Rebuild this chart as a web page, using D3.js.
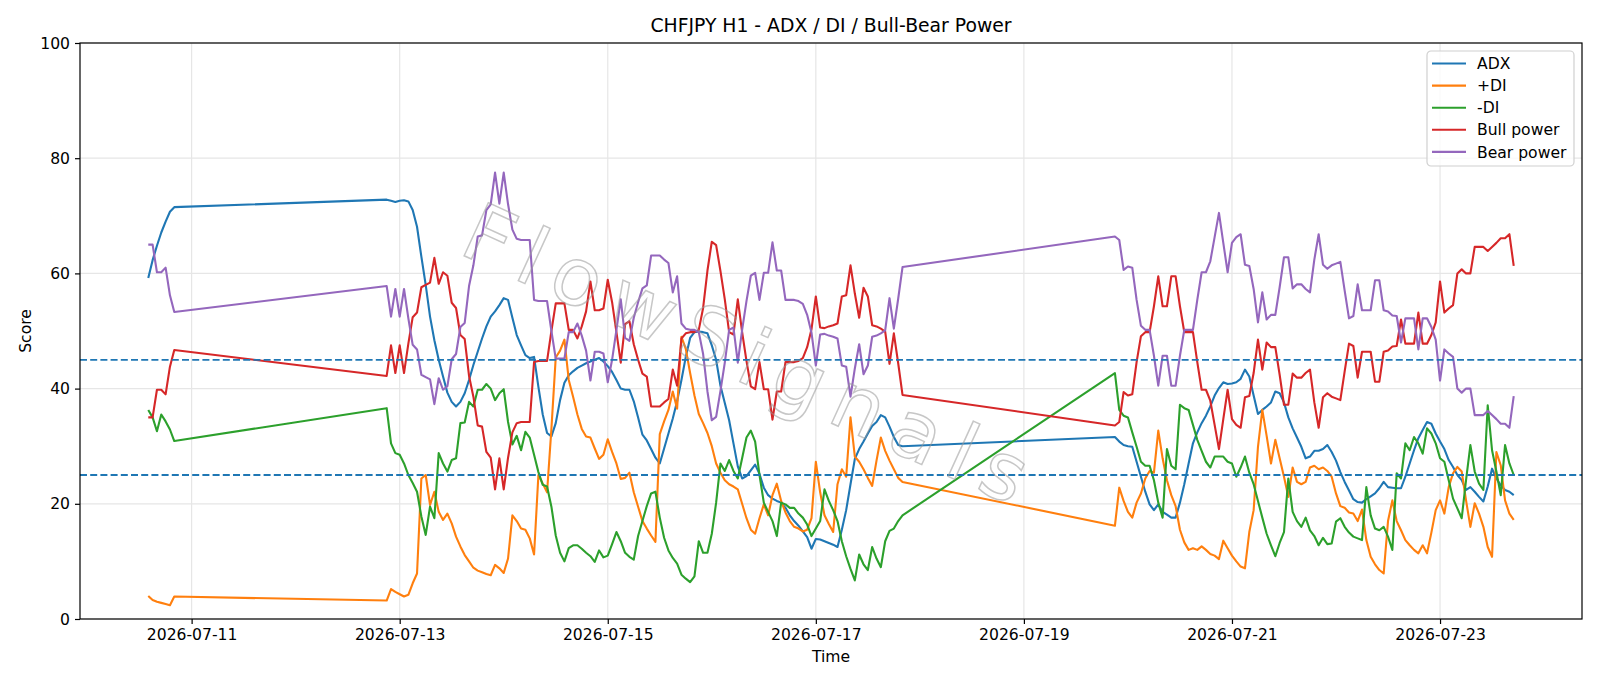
<!DOCTYPE html>
<html>
<head>
<meta charset="utf-8">
<script src="https://cdn.jsdelivr.net/npm/d3@7"></script>
<style>
	body { margin: 0; background: #fff; }
	svg { font-family: "DejaVu Sans", sans-serif; }
</style>
</head>
<body>
<svg id="chart" width="1600" height="686"></svg>
<script>
{
	// hourly sessions: first bar, number of bars (weekends are skipped)
	var sessions = [["2026-07-10T14:00", 7], ["2026-07-12T21:00", 120], ["2026-07-19T21:00", 93]];

	var adx = [
		59.2, 62.3, 64.8, 67.1, 69.0, 70.7, 71.5,
		72.8, 72.6, 72.4, 72.6, 72.7, 72.5, 71.0, 68.1, 62.9, 58.0,
		52.5, 48.4, 45.0, 42.1, 39.3, 37.7, 36.9, 37.7, 39.2, 41.5,
		44.1, 46.4, 48.7, 50.8, 52.5, 53.4, 54.5, 55.7, 55.4, 52.3,
		49.3, 47.5, 45.8, 45.3, 45.5, 40.3, 35.5, 32.3, 31.7, 34.0,
		38.0, 41.0, 42.3, 43.0, 43.6, 44.0, 44.4, 44.7, 45.0, 45.3,
		44.7, 43.9, 42.9, 41.5, 40.0, 39.8, 39.8, 37.8, 35.0, 32.0,
		31.0, 29.5, 28.0, 27.0, 29.6, 32.2, 34.8, 37.8, 41.5, 45.5,
		48.8, 49.8, 49.9, 49.8, 49.6, 47.5, 45.0, 40.5, 37.5, 34.5,
		30.5, 26.5, 24.4, 24.8, 25.8, 26.8, 25.2, 22.8, 21.5, 20.9,
		20.5, 20.2, 19.3, 18.0, 17.0, 16.2, 15.2, 14.2, 12.2, 13.9,
		13.8, 13.5, 13.2, 12.9, 12.5, 15.5, 18.9, 23.4, 27.8, 29.5,
		30.8, 32.2, 33.5, 34.2, 35.4, 35.0, 33.4, 31.6, 30.2, 30.0,
		31.6, 30.8, 30.2, 30.0, 29.9, 27.3, 24.7, 22.1, 19.9, 18.9,
		19.9, 18.6, 18.1, 17.6, 17.6, 20.2, 23.4, 27.0, 30.5, 32.4,
		34.0, 35.3, 36.9, 38.8, 40.1, 41.1, 40.8, 40.9, 41.1, 41.7,
		43.3, 42.1, 38.8, 35.6, 36.3, 36.9, 37.6, 39.5, 39.2, 37.6,
		35.0, 33.1, 31.5, 29.9, 27.9, 28.2, 29.2, 29.2, 29.5, 30.2,
		29.0, 27.5, 25.5, 23.8, 22.3, 20.8, 20.3, 20.2, 20.8, 21.3,
		21.8, 22.7, 23.8, 22.9, 22.8, 22.7, 22.7, 24.7, 27.0, 29.3,
		31.4, 32.8, 34.2, 33.9, 32.2, 30.8, 29.5, 27.6, 26.4, 25.0,
		24.1, 22.4, 22.9, 22.1, 21.2, 20.4, 23.0, 26.1, 24.4, 23.2,
		22.4, 22.1, 21.5
	];

	var plusDi = [
		4.0, 3.3, 3.0, 2.8, 2.6, 2.4, 3.9,
		3.2, 5.2, 4.7, 4.3, 3.9, 4.2, 6.2, 7.9, 24.4, 25.0,
		19.8, 22.1, 18.6, 17.2, 18.3, 16.6, 14.3, 12.6, 11.1, 10.0,
		8.9, 8.4, 8.1, 7.8, 7.6, 9.4, 8.8, 8.0, 10.5, 18.0,
		17.0, 15.7, 15.5, 14.0, 11.2, 25.0, 23.5, 22.0, 33.0, 45.4,
		46.6, 48.5, 41.5, 38.6, 35.5, 33.0, 31.7, 31.5, 29.6, 27.8,
		28.5, 31.2, 29.0, 27.0, 24.3, 24.5, 25.4, 22.0, 19.5, 17.0,
		15.7, 14.5, 13.4, 32.1, 34.3, 36.3, 39.5, 36.5, 49.0, 46.9,
		42.7, 38.8, 35.6, 34.0, 32.3, 30.0, 27.0, 25.4, 24.1, 23.4,
		23.0, 22.5, 20.0, 17.5, 15.5, 14.8, 17.5, 19.9, 18.0, 21.5,
		23.5, 20.5, 18.5, 17.0, 16.0, 15.7, 15.2, 15.5, 17.5, 27.3,
		22.0, 18.0, 16.5, 15.1, 23.4, 26.0, 24.7, 35.0, 28.2, 27.3,
		26.0, 24.5, 23.1, 27.5, 31.5, 29.2, 27.5, 26.0, 24.5, 23.8,
		16.2, 22.8, 20.5, 18.6, 17.6, 20.2, 21.8, 24.4, 25.7, 25.4,
		32.7, 27.9, 24.1, 21.5, 19.6, 15.5, 13.3, 12.0, 12.3, 12.0,
		12.6, 12.0, 11.3, 11.0, 10.4, 13.6, 12.3, 11.0, 10.0, 9.1,
		8.8, 15.1, 18.9, 29.9, 36.3, 31.8, 27.0, 31.1, 27.9, 24.7,
		21.2, 26.3, 23.8, 23.4, 23.8, 26.3, 26.6, 26.0, 26.3, 25.7,
		24.7, 21.8, 19.6, 19.3, 18.5, 18.3, 17.0, 19.0, 13.7, 10.8,
		9.5, 8.5, 7.9, 17.0, 20.6, 17.0, 15.4, 13.7, 12.8, 12.0,
		11.4, 12.8, 11.4, 15.0, 18.9, 20.6, 18.3, 22.9, 25.3, 26.4,
		25.6, 20.6, 16.0, 20.1, 18.3, 16.0, 12.5, 10.8, 29.0, 26.7,
		20.6, 18.3, 17.2
	];

	var minusDi = [
		36.3, 35.0, 32.6, 35.5, 34.3, 32.9, 30.9,
		36.6, 30.5, 28.8, 28.5, 27.0, 25.0, 23.6, 22.1, 17.8, 14.6,
		19.5, 17.5, 28.8, 27.0, 25.6, 27.6, 27.9, 34.0, 34.1, 37.7,
		36.9, 39.8, 39.8, 40.8, 40.0, 38.0, 39.2, 39.9, 34.2, 30.3,
		31.8, 29.3, 32.5, 31.5, 28.5, 25.5, 23.3, 23.0, 19.5, 14.5,
		11.5, 10.0, 12.3, 12.8, 12.8, 12.2, 11.5, 10.9, 9.9, 11.9,
		10.7, 11.0, 13.0, 15.1, 13.5, 11.5, 10.8, 10.3, 14.4, 17.0,
		19.6, 21.8, 22.1, 17.6, 14.1, 11.9, 10.6, 9.6, 7.7, 7.0,
		6.4, 7.4, 13.5, 11.5, 11.5, 14.8, 20.2, 27.0, 25.7, 27.6,
		25.7, 24.4, 27.9, 31.5, 32.7, 30.8, 25.0, 20.2, 18.6, 17.0,
		14.4, 20.2, 19.9, 19.3, 19.3, 18.3, 17.6, 16.4, 14.4, 15.7,
		17.0, 22.5, 20.5, 18.9, 17.0, 13.5, 10.9, 8.7, 6.7, 11.2,
		9.5, 8.5, 12.5, 10.5, 9.0, 13.5, 15.3, 15.7, 17.0, 18.0,
		42.7, 36.3, 35.3, 35.0, 32.4, 29.9, 27.3, 26.6, 26.6, 24.1,
		20.2, 17.6, 29.5, 26.6, 26.0, 37.2, 36.6, 36.3, 33.7, 31.1,
		29.2, 27.3, 26.3, 28.2, 28.2, 28.2, 27.3, 27.0, 24.7, 26.3,
		28.2, 25.4, 23.4, 20.5, 17.6, 14.8, 12.8, 10.9, 13.2, 15.1,
		24.4, 18.6, 17.0, 16.0, 17.6, 15.4, 14.4, 12.8, 14.1, 13.0,
		13.1, 16.9, 17.5, 16.0, 15.0, 14.3, 14.0, 13.7, 22.9, 18.0,
		15.7, 15.4, 16.0, 14.3, 12.0, 25.3, 24.4, 30.5, 29.3, 31.6,
		30.5, 28.7, 33.1, 32.2, 30.5, 27.9, 27.3, 24.1, 20.9, 19.2,
		17.5, 24.1, 30.2, 25.6, 23.5, 22.4, 37.1, 29.3, 25.6, 21.5,
		30.2, 27.0, 25.0
	];

	var bullPower = [
		35.0, 35.0, 39.8, 39.8, 39.0, 43.8, 46.7,
		42.2, 47.5, 42.7, 47.5, 42.7, 47.8, 52.4, 53.2, 57.6, 58.0,
		58.4, 62.7, 58.2, 60.2, 59.6, 54.9, 54.0, 49.3, 48.6, 42.2,
		38.6, 33.6, 33.4, 29.0, 28.0, 22.5, 27.9, 22.5, 28.0, 32.4,
		34.0, 34.2, 34.2, 34.2, 44.6, 44.8, 44.8, 44.8, 50.0, 54.8,
		54.8, 54.8, 50.2, 50.2, 48.7, 50.8, 53.4, 58.6, 53.6, 53.6,
		53.9, 58.9, 55.0, 49.8, 44.5, 51.2, 51.7, 47.7, 45.0, 42.6,
		42.1, 36.9, 36.9, 36.9, 37.6, 38.2, 43.3, 40.5, 48.7, 49.6,
		49.8, 49.8, 50.2, 54.0, 60.5, 65.5, 64.9, 60.4, 55.5, 49.8,
		49.4, 55.5, 49.8, 44.8, 40.4, 39.9, 44.6, 39.9, 39.9, 34.6,
		39.5, 39.5, 44.6, 44.6, 44.6, 44.8, 45.3, 47.2, 50.3, 56.0,
		50.6, 50.5, 50.8, 51.0, 51.3, 56.0, 56.2, 61.4, 56.5, 52.3,
		57.5, 56.0, 51.0, 50.8, 50.4, 49.9, 44.3, 49.6, 44.4, 38.9,
		33.6, 34.2, 39.4, 38.8, 39.0, 44.6, 49.1, 49.8, 49.8, 54.3,
		59.5, 54.3, 54.3, 59.5, 59.5, 54.3, 49.8, 49.8, 49.8, 44.6,
		39.8, 39.8, 37.9, 33.7, 29.5, 34.7, 39.8, 34.7, 33.7, 33.2,
		38.5, 38.7, 42.7, 48.5, 43.3, 48.0, 47.2, 47.2, 42.4, 37.2,
		37.2, 42.6, 41.9, 41.9, 42.7, 43.3, 37.6, 33.2, 38.5, 39.2,
		38.6, 38.3, 38.0, 43.0, 47.8, 47.4, 41.9, 46.4, 46.4, 46.4,
		41.2, 41.2, 46.4, 46.6, 47.3, 47.4, 52.0, 47.8, 47.8, 47.8,
		53.2, 47.8, 47.8, 49.3, 51.5, 58.6, 53.2, 53.9, 54.5, 60.0,
		60.7, 60.0, 60.0, 64.6, 64.6, 64.6, 63.9, 64.6, 65.3, 66.1,
		66.1, 66.8, 61.3
	];

	var bearPower = [
		65.0, 65.0, 60.2, 60.2, 61.0, 56.2, 53.3,
		57.8, 52.5, 57.3, 52.5, 57.3, 52.2, 47.6, 46.8, 42.4, 42.0,
		41.6, 37.3, 41.8, 39.8, 40.4, 45.1, 46.0, 50.7, 51.4, 57.8,
		61.4, 66.4, 66.6, 71.0, 72.0, 77.5, 72.1, 77.5, 72.0, 67.6,
		66.0, 65.8, 65.8, 65.8, 55.4, 55.2, 55.2, 55.2, 50.0, 45.2,
		45.2, 45.2, 49.8, 49.8, 51.3, 49.2, 46.6, 41.4, 46.4, 46.4,
		46.1, 41.1, 45.0, 50.2, 55.5, 48.8, 48.3, 52.3, 55.0, 57.4,
		57.9, 63.1, 63.1, 63.1, 62.4, 61.8, 56.7, 59.5, 51.3, 50.4,
		50.2, 50.2, 49.8, 46.0, 39.5, 34.5, 35.1, 39.6, 44.5, 50.2,
		50.6, 44.5, 50.2, 55.2, 59.6, 60.1, 55.4, 60.1, 60.1, 65.4,
		60.5, 60.5, 55.4, 55.4, 55.4, 55.2, 54.7, 52.8, 49.7, 44.0,
		49.4, 49.5, 49.2, 49.0, 48.7, 44.0, 43.8, 38.6, 43.5, 47.7,
		42.5, 44.0, 49.0, 49.2, 49.6, 50.1, 55.7, 50.4, 55.6, 61.1,
		66.4, 65.8, 60.6, 61.2, 61.0, 55.4, 50.9, 50.2, 50.2, 45.7,
		40.5, 45.7, 45.7, 40.5, 40.5, 45.7, 50.2, 50.2, 50.2, 55.4,
		60.2, 60.2, 62.1, 66.3, 70.5, 65.3, 60.2, 65.3, 66.3, 66.8,
		61.5, 61.3, 57.3, 51.5, 56.7, 52.0, 52.8, 52.8, 57.6, 62.8,
		62.8, 57.4, 58.1, 58.1, 57.3, 56.7, 62.4, 66.8, 61.5, 60.8,
		61.4, 61.7, 62.0, 57.0, 52.2, 52.6, 58.1, 53.6, 53.6, 53.6,
		58.8, 58.8, 53.6, 53.4, 52.7, 52.6, 48.0, 52.2, 52.2, 52.2,
		46.8, 52.2, 52.2, 50.7, 48.5, 41.4, 46.8, 46.1, 45.5, 40.0,
		39.3, 40.0, 40.0, 35.4, 35.4, 35.4, 36.1, 35.4, 34.7, 33.9,
		33.9, 33.2, 38.7
	];

	var seriesNames = ["ADX", "+DI", "-DI", "Bull power", "Bear power"];
	var seriesColors = ["#1f77b4", "#ff7f0e", "#2ca02c", "#d62728", "#9467bd"];
	var tickDates = ["2026-07-11", "2026-07-13", "2026-07-15", "2026-07-17", "2026-07-19", "2026-07-21", "2026-07-23"];
	var yTicks = [0, 20, 40, 60, 80, 100];
	var levels = [45, 25];

	var svg = d3.select("#chart");
	var plot = {l: 80, r: 1582, t: 43, b: 619};

	var parseTime = d3.utcParse("%Y-%m-%dT%H:%M");
	var parseDay = d3.utcParse("%Y-%m-%d");

	var times = [];
	sessions.forEach(function(s) {
		var t0 = parseTime(s[0]);
		for (var i = 0; i < s[1]; i++) times.push(d3.utcHour.offset(t0, i));
	});

	// matplotlib style 5% margin on the time axis
	var tMin = +times[0], tMax = +times[times.length - 1];
	var pad = (tMax - tMin) * 0.05;
	var x = d3.scaleUtc()
		.domain([new Date(tMin - pad), new Date(tMax + pad)])
		.range([plot.l, plot.r]);

	var y = d3.scaleLinear()
		.domain([0, 100])
		.range([plot.b, plot.t]);

	// grid
	svg.append("g")
		.selectAll("line")
		.data(tickDates)
		.join("line")
		.attr("x1", function(d) { return x(parseDay(d)); })
		.attr("x2", function(d) { return x(parseDay(d)); })
		.attr("y1", plot.t)
		.attr("y2", plot.b)
		.attr("stroke", "#e6e6e6")
		.attr("stroke-width", 1.2);

	svg.append("g")
		.selectAll("line")
		.data(yTicks)
		.join("line")
		.attr("x1", plot.l)
		.attr("x2", plot.r)
		.attr("y1", function(d) { return y(d); })
		.attr("y2", function(d) { return y(d); })
		.attr("stroke", "#e6e6e6")
		.attr("stroke-width", 1.2);

	var line = d3.line()
		.x(function(d, i) { return x(times[i]); })
		.y(function(d) { return y(d); });

	var allSeries = [adx, plusDi, minusDi, bullPower, bearPower];

	svg.append("g")
		.selectAll("path")
		.data(allSeries)
		.join("path")
		.attr("d", line)
		.attr("fill", "none")
		.attr("stroke", function(d, i) { return seriesColors[i]; })
		.attr("stroke-width", 2.1)
		.attr("stroke-linejoin", "round");

	// threshold lines
	svg.append("g")
		.selectAll("line")
		.data(levels)
		.join("line")
		.attr("x1", plot.l)
		.attr("x2", plot.r)
		.attr("y1", function(d) { return y(d); })
		.attr("y2", function(d) { return y(d); })
		.attr("stroke", "#1f77b4")
		.attr("stroke-width", 1.8)
		.attr("stroke-dasharray", "7,3.2");

	// watermark
	svg.append("text")
		.attr("transform", "translate(750,362) rotate(24.5)")
		.attr("text-anchor", "middle")
		.attr("dominant-baseline", "middle")
		.style("font-size", "80px")
		.style("letter-spacing", "14px")
		.attr("fill", "none")
		.attr("stroke", "#9a9a9a")
		.attr("stroke-width", 1.5)
		.attr("opacity", 0.55)
		.text("FlowSignals");

	// spines
	svg.append("rect")
		.attr("x", plot.l)
		.attr("y", plot.t)
		.attr("width", plot.r - plot.l)
		.attr("height", plot.b - plot.t)
		.attr("fill", "none")
		.attr("stroke", "#000")
		.attr("stroke-width", 1.2);

	var xAxis = svg.append("g")
		.attr("transform", "translate(0," + plot.b + ")")
		.call(d3.axisBottom(x)
			.tickValues(tickDates.map(parseDay))
			.tickFormat(d3.utcFormat("%Y-%m-%d"))
			.tickSize(5)
			.tickPadding(5));

	var yAxis = svg.append("g")
		.attr("transform", "translate(" + plot.l + ",0)")
		.call(d3.axisLeft(y)
			.tickValues(yTicks)
			.tickSize(5)
			.tickPadding(5));

	[xAxis, yAxis].forEach(function(g) {
		g.select(".domain").remove();
		g.selectAll("line").attr("stroke", "#000").attr("stroke-width", 1.2);
		g.selectAll("text")
			.attr("fill", "#000")
			.style("font-size", "15.6px")
			.style("font-family", "DejaVu Sans");
	});

	svg.append("text")
		.attr("x", (plot.l + plot.r) / 2)
		.attr("y", 32)
		.attr("text-anchor", "middle")
		.style("font-size", "18.8px")
		.text("CHFJPY H1 - ADX / DI / Bull-Bear Power");

	svg.append("text")
		.attr("x", (plot.l + plot.r) / 2)
		.attr("y", 662)
		.attr("text-anchor", "middle")
		.style("font-size", "15.6px")
		.text("Time");

	svg.append("text")
		.attr("transform", "translate(31," + (plot.t + plot.b) / 2 + ") rotate(-90)")
		.attr("text-anchor", "middle")
		.style("font-size", "15.6px")
		.text("Score");

	// legend
	var legend = svg.append("g")
		.attr("transform", "translate(1427,51)");

	legend.append("rect")
		.attr("width", 147)
		.attr("height", 115)
		.attr("rx", 4)
		.attr("fill", "#fff")
		.attr("fill-opacity", 0.8)
		.attr("stroke", "#d0d0d0")
		.attr("stroke-width", 1.2);

	var rows = legend.selectAll(".row")
		.data(seriesNames)
		.join("g")
		.attr("class", "row")
		.attr("transform", function(d, i) { return "translate(0," + (12.5 + i * 22.1) + ")"; });

	rows.append("line")
		.attr("x1", 5)
		.attr("x2", 39)
		.attr("stroke", function(d, i) { return seriesColors[i]; })
		.attr("stroke-width", 2.1);

	rows.append("text")
		.attr("x", 50)
		.attr("dy", "0.36em")
		.style("font-size", "15.6px")
		.text(function(d) { return d; });
}
</script>
</body>
</html>
